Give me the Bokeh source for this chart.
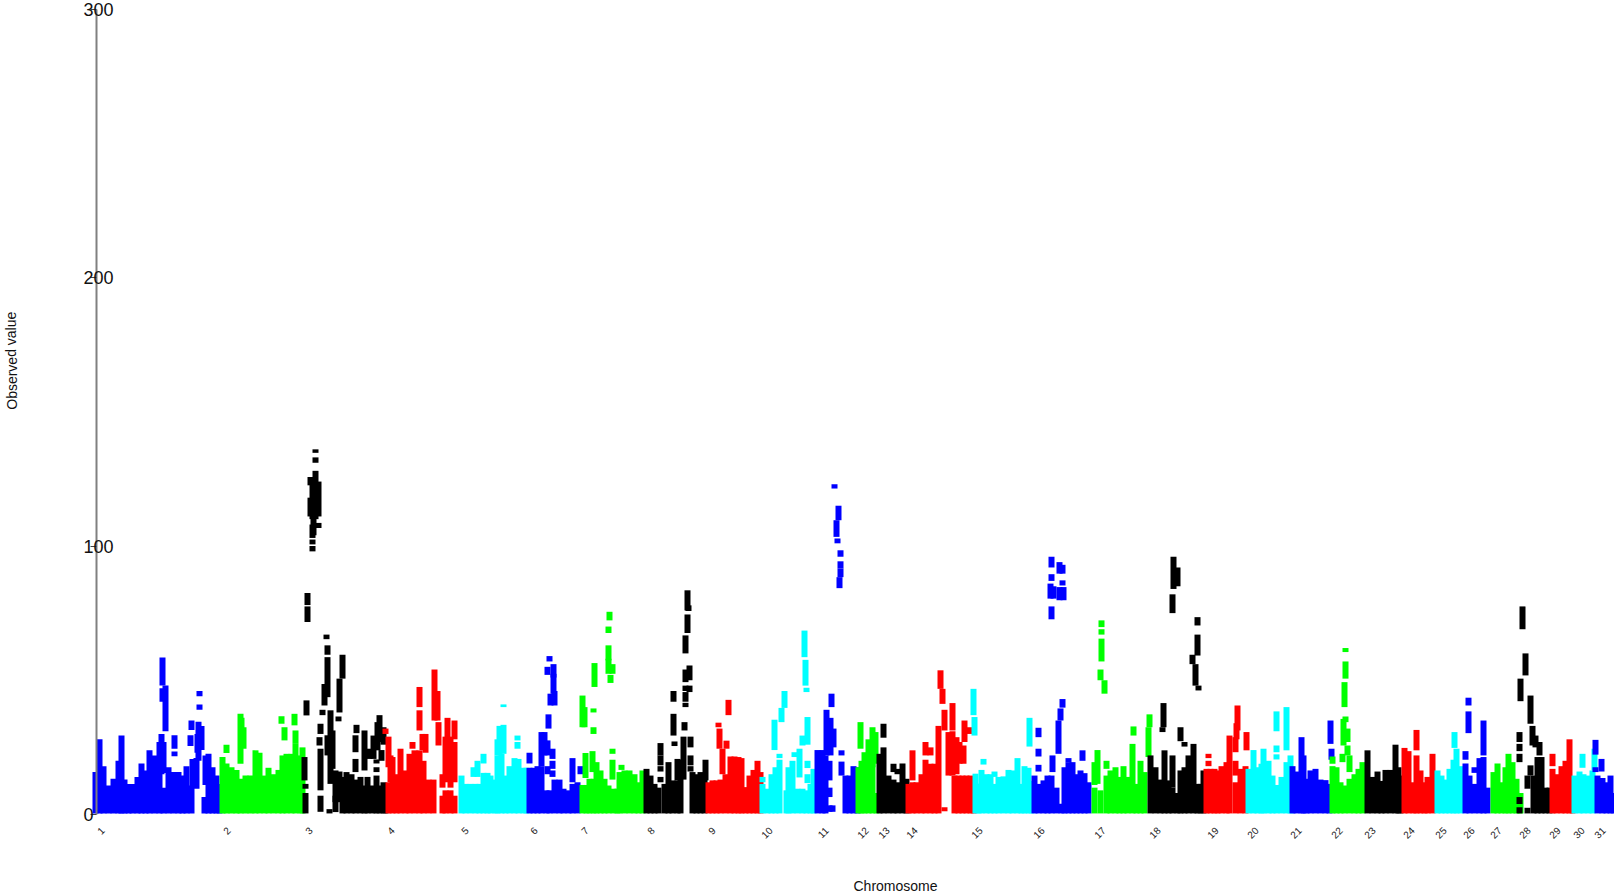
from bokeh.plotting import figure
from bokeh.models import FixedTicker, Label, ColumnDataSource
from bokeh.embed import file_html
from bokeh.resources import INLINE

# (position, top of the dense column)
chr01 = [(95,15.8),(99,28),(103,18),(108,10.8),(113,13.3),(118,20),(121,29.4),(124,13),(128,11.4),(132,11.4),(137,14),(141,19),(145,16.4),(149,23.9),(154,22),(159,27),(163,10),(168,17.6),(173,15.8),(178,15.8),(182,14.5),(186,18),(191,10.8),(204,6.5),(208,22.6),(212,17.6),(216,14.5),(219,11.4)]
chr01_up = [(163,15.5,27),(161,15,30),(162,48,58.5),(165,31,48),(162,42,47),(174,24.5,29.5),(174,21.7,23.5),(199,39,41),(199,44,46),(191,31.5,35),(190,25.5,29.5),(198,20,34.5),(201,24,33),(192,10,20.7),(196,9.6,21),(205,11,22),(197,23,30)]
chr02 = [(222,21.4),(226,19),(231,17.6),(236,16.6),(240,13.3),(245,14.5),(250,14.5),(255,23.9),(259,23),(264,14.5),(268,17.4),(273,15),(278,16.6),(282,22),(286,22.6),(291,22.6),(295,26.3),(300,22),(302,25)]
chr02_up = [(226,22.9,26),(240,18.9,37.5),(243,24.5,32.5),(241,28,36),(281,33.8,36.6),(284,27.6,32.5),(294,33.2,37.5),(295,26.3,31.3)]
chr03 = [(305,8),(342,14),(346,15.8),(351,15),(355,13),(360,14),(364,10.8),(367,14),(372,10.8),(376,14.5),(379,10.8),(383,12),(385,10)]
chr03_up = [(305,9.6,11.4),(304,12.7,21.4),(306,36.9,42.5),(307,78,82.5),(307,71.7,77.5),(312,98,100),(312,100.6,102.4),(312,103,108),(313,104,112),(312,110,123),(315,110,128),(318,111,124),(310,122.6,125.7),(315,134.7,136),(315,131,133),(318,106.7,108.6),(310,111,118),(320,1,7),(320,9,24.5),(319,25.7,28.8),(320,30,33.8),(322,37,39),(324,40.6,48.6),(327,43.7,58.6),(327,59.5,63),(326,65.3,67),(327,22,29.5),(330,11.4,38.8),(332,17,31.3),(329,0.4,2),(335,0.9,7),(335,4.6,16.4),(339,4.6,16),(339,38,50.6),(342,50.6,59.5),(338,34.7,36.5),(356,30.3,33.4),(355,23.2,29.5),(355,15.8,20.7),(364,16.4,31.3),(369,20.7,24.5),(373,20.7,29.4),(376,15.8,17.6),(376,19,20.5),(377,23.9,34.4),(379,27,37),(381,20,24),(383,26,32.5)]
chr04 = [(388,12),(392,21.4),(396,15),(400,24.5),(405,16.4),(409,22.6),(414,23.9),(419,23.9),(423,20),(428,13),(433,13),(445,9),(450,9),(454,7)]
chr04_up = [(385,30,32),(388,17.6,29),(390,12,22),(412,24.5,27),(419,40,47.5),(419,31.3,38.8),(422,24,30),(425,23,30),(434,35,54),(437,35,46),(438,25.7,34.4),(442,10,15),(442,0.4,7),(445,12,29),(447,22,36),(450,10,29),(454,28,35),(454,12,27)]
chr05 = [(461,14.5),(465,11.4),(470,11.4),(475,11.4),(479,11.4),(483,15.5),(487,15.5),(490,14.5),(495,13),(497,22),(501,22.6),(505,14.5),(509,18),(514,21),(518,20.7),(523,17.4),(526,17.4)]
chr05_up = [(473,14,17.6),(477,14,20),(483,19,22.6),(497,22,28),(499,22,33),(503,22.6,33.4),(503,40,41),(517,27.6,29.4),(517,24.5,27)]
chr06 = [(529,17.4),(533,17.4),(537,18),(541,18),(546,9),(549,9),(554,13),(559,13),(563,9.6),(568,9),(572,11.4),(577,12)]
chr06_up = [(529,19,23),(541,18,30.7),(544,22,30.7),(547,22,27.6),(547,15,18),(548,32,37.3),(550,40.6,45),(553,45,52.4),(553,51,56),(549,57,59),(547,52,55),(554,40.6,46),(552,20.7,24.5),(552,17,20),(552,14,16.4),(572,12,21),(580,15,18)]
chr07 = [(582,11),(586,11),(589,13.3),(593,13.3),(596,19.5),(600,16.4),(604,13.3),(608,10.8),(613,9.6),(617,9.6),(619,15.8),(624,16.4),(629,16.4),(634,15),(638,12),(642,16.4)]
chr07_up = [(582,32.5,44.3),(584,32.5,40),(585,13.6,22.9),(592,15.8,23.6),(594,47.5,56.4),(593,38,39.5),(593,30,32.5),(609,72.3,75.5),(608,67.6,70),(608,57.4,63),(608,52.4,58),(612,52.4,56),(610,49,52),(612,22.6,24.5),(612,13,20.4),(621,16.6,18.5)]
chr08 = [(646,17),(650,14.5),(654,11.4),(658,10),(664,11.4),(668,19.5),(672,12.7),(677,12.7),(680,20.4),(692,15.8),(696,15),(700,15.8),(704,14.5)]
chr08_up = [(660,12,14),(660,16,18),(660,18.3,22),(660,22,26.6),(673,42,46),(673,29.4,37.5),(674,25.5,27.2),(677,12.7,20.7),(683,13,29),(687,76,83.5),(688,75.8,77.9),(687,67.6,74.5),(685,60,66.7),(685,49.3,54),(689,50,55.5),(685,46,48),(689,45.6,48),(685,42,45.6),(685,40,41.6),(684,31.3,34.4),(690,25,29),(690,18.3,22),(690,16,18),(705,12.7,20.4)]
chr09 = [(708,12),(712,12.7),(716,12.7),(720,13),(725,15),(730,21.6),(734,21.6),(738,21.4),(741,21),(745,10.2),(749,14.5),(753,16.6),(757,20),(760,15.8)]
chr09_up = [(718,32.5,34.2),(719,24.5,32),(722,15,24.5),(726,24.5,27.5),(728,37,42.7)]
chr10 = [(762,11.4),(767,9.6),(771,15),(775,17.6),(779,20.4),(786,9),(788,17.6),(792,20),(797,9.6),(802,9.6),(806,9),(810,11.4),(813,17)]
chr10_up = [(762,12,14),(774,24,35.3),(779,21,22.6),(781,34.4,39.7),(784,39.7,46),(794,21.4,23.2),(799,13.8,24.5),(804,58.6,68.5),(805,48,57.6),(806,45.6,47.2),(807,26,36.3),(802,25.7,29.4),(807,17.3,20),(807,11.7,15)]
chr11 = [(817,24),(822,24),(825,22),(845,14.5),(849,14.5),(853,18),(857,17.6)]
chr11_up = [(826,22,39),(830,22,36),(833,25,32),(829,12.7,20),(829,6.5,10),(829,1,3.4),(831,40,45),(832,1,3.4),(841,22,23.9),(841,14.5,19.7),(834,121.4,123),(838,109.6,115),(836,103.4,109.6),(837,101,102.8),(840,96,98.4),(840,91.6,94.3),(840,88.4,91.6),(839,84.3,88.4)]
chr12 = [(858,17.6),(861,20),(864,23.2),(868,28),(872,19),(876,8)]
chr12_up = [(860,24.5,34.4),(872,17.6,32.5),(875,18.9,30.7)]
chr13 = [(879,22.6),(883,25),(888,14.5),(893,13),(897,12),(902,19),(906,13.3)]
chr13_up = [(883,28.6,33.8),(893,15.8,18.9),(897,15,17)]
chr14 = [(908,11.4),(912,12),(916,12),(921,15),(925,20.4),(930,18.9),(934,18.9),(938,33),(954,14.5),(958,14.5),(962,14.5),(966,14.5),(970,14.5),(973,9)]
chr14_up = [(912,12.7,23.9),(925,22,27),(930,22,25),(940,46.8,53.7),(942,41.2,46.8),(944,31.3,39),(944,1.2,2.7),(948,14.5,30.7),(952,31.3,41.5),(952,14.5,31),(956,15,28.8),(959,18.9,27),(964,27,35),(963,18.9,25.7),(969,30,32.5)]
chr15 = [(975,15.2),(978,11.5),(981,16.6),(986,15),(990,15),(994,11.4),(998,14),(1003,14.2),(1008,16.6),(1012,16.4),(1017,21),(1021,11.4),(1024,18),(1028,17.4),(1031,12.5)]
chr15_up = [(973,37,46.8),(974,29.4,36.3),(994,14,16),(983,18.6,20.7),(1029,25.3,36)]
chr16 = [(1034,14.5),(1038,11.4),(1043,12.7),(1047,14.5),(1051,14.5),(1056,10),(1061,4),(1064,17.6),(1068,19.5),(1072,19.5),(1076,15),(1080,16.4),(1084,15.4),(1088,12)]
chr16_up = [(1038,28.8,32.3),(1038,21.6,24.5),(1038,16,18.5),(1052,15.8,22),(1051,92,96),(1051,87,89.5),(1050,80.4,86),(1053,80.4,85),(1051,72.7,77.5),(1059,89.7,94),(1062,89.7,93),(1062,85.3,87.2),(1059,79.8,84.7),(1063,79.8,84.7),(1058,22.6,35),(1062,39.8,43),(1060,35,39.5),(1068,19.5,21),(1082,20,23.9)]
chr17 = [(1094,10),(1100,9),(1106,14.5),(1110,16.4),(1115,17.6),(1119,14),(1123,18),(1127,14),(1132,26.3),(1136,11.4),(1140,20),(1144,15.8)]
chr17_up = [(1097,11.4,24),(1094,11,19.5),(1101,69.8,72.3),(1101,67,69),(1101,57,65.5),(1100,50,54),(1104,45,50),(1106,17,20),(1133,29.4,32.8),(1149,32.5,37.3),(1148,21.4,32.5)]
chr18 = [(1150,22),(1155,17.6),(1160,13),(1164,23.9),(1168,12.7),(1172,10),(1177,8),(1180,16.4),(1184,17.6),(1188,22),(1193,26.3),(1197,11.4),(1200,11.4),(1203,16.4)]
chr18_up = [(1172,10,22),(1163,32.5,41.5),(1162,30.7,32.5),(1180,27.3,32.5),(1184,25.3,27),(1197,70.4,73.5),(1197,59.2,67),(1192,56,59.5),(1195,48,56),(1198,46.2,48),(1173,84,96),(1177,85,92),(1172,75,82)]
chr19 = [(1206,17),(1210,17),(1214,17),(1217,16.4),(1221,18),(1226,19.5),(1229,29.4),(1235,12),(1240,17),(1245,18)]
chr19_up = [(1208,18,20),(1208,21,22.6),(1235,14.5,20),(1235,23.2,28.8),(1237,31.3,40.6),(1236,28,34),(1246,23.9,30.7)]
chr20 = [(1248,17),(1253,24),(1257,17.6),(1261,18.9),(1263,24.5),(1268,20),(1272,14.5),(1276,11),(1281,14),(1286,19.5),(1290,22)]
chr20_up = [(1276,31,38.4),(1276,23.2,25.7),(1276,20.5,22.4),(1286,23.9,40)]
chr21 = [(1292,18),(1296,16),(1301,28.8),(1303,22),(1306,13.3),(1310,16.4),(1315,17),(1320,13),(1325,12.8),(1329,11.4)]
chr21_up = [(1330,26.3,35),(1331,20.4,24.5)]
chr22 = [(1332,18),(1336,17.6),(1340,12),(1344,10.8),(1349,13.3),(1354,15),(1358,17),(1362,19.5)]
chr22_up = [(1332,18.9,21.6),(1342,19.5,22.6),(1345,60.5,62),(1345,50.6,57),(1344,40,49.3),(1345,34.4,36.5),(1343,25.7,35.6),(1347,27,32),(1347,22,25.7),(1349,15.8,22)]
chr23 = [(1367,23.9),(1372,14),(1377,16),(1381,12.5),(1385,16.6),(1390,16.6),(1395,26),(1398,17.6),(1400,14.5)]
chr23_up = []
chr24 = [(1404,24.8),(1408,23.6),(1413,12),(1416,22),(1420,16.4),(1424,12),(1427,14),(1432,22.6)]
chr24_up = [(1416,23.9,31.5)]
chr25 = [(1437,16.4),(1441,14.5),(1445,13),(1449,17),(1453,20.4),(1456,24.5),(1460,18)]
chr25_up = [(1454,24.8,30.7)]
chr26 = [(1465,19),(1469,14.5),(1474,11.4),(1479,21),(1483,21.4),(1487,10)]
chr26_up = [(1465,20.4,23.6),(1468,30.3,38.4),(1468,40.6,43.5),(1483,22,35),(1474,15.5,17.6)]
chr27 = [(1493,15.8),(1497,19),(1501,12),(1505,17.6),(1508,22.6),(1512,19.5),(1516,13.3),(1520,8)]
chr27_up = []
chr28 = [(1527,2.5),(1533,14.5),(1537,21.4),(1541,21.4),(1545,10),(1549,10)]
chr28_up = [(1519,3.9,6.5),(1519,0.4,2.7),(1519,27,30.7),(1519,23.6,26.3),(1519,19.5,22.6),(1522,69,77.5),(1520,42.2,50.6),(1525,51.8,60),(1527,9.6,14.5),(1530,33.8,44.3),(1530,14.5,18.3),(1532,25.7,33),(1535,25,29.4),(1539,22,27)]
chr29 = [(1552,17),(1556,15),(1561,18),(1565,20),(1569,28),(1572,12)]
chr29_up = [(1552,18,22.6)]
chr30 = [(1574,14.5),(1579,16),(1583,15),(1588,14.5),(1592,16.4)]
chr30_up = [(1582,17.4,22.6),(1594,16.4,24.5)]
chr31 = [(1597,14.5),(1602,13.6),(1606,12),(1610,14.5),(1613,8)]
chr31_up = [(1595,22.3,27.8),(1595,15.8,17.6),(1601,16,20.7)]

dense_columns = [chr01,chr02,chr03,chr04,chr05,chr06,chr07,chr08,chr09,chr10,chr11,chr12,chr13,chr14,chr15,chr16,chr17,chr18,chr19,chr20,chr21,chr22,chr23,chr24,chr25,chr26,chr27,chr28,chr29,chr30,chr31]
upper_runs = [chr01_up,chr02_up,chr03_up,chr04_up,chr05_up,chr06_up,chr07_up,chr08_up,chr09_up,chr10_up,chr11_up,chr12_up,chr13_up,chr14_up,chr15_up,chr16_up,chr17_up,chr18_up,chr19_up,chr20_up,chr21_up,chr22_up,chr23_up,chr24_up,chr25_up,chr26_up,chr27_up,chr28_up,chr29_up,chr30_up,chr31_up]

chrom_colors = ["#0000ff", "#00ff00", "#000000", "#ff0000", "#00ffff"]
chrom_labels = [str(i) for i in range(1, 32)]
chrom_ticks = [102,228,310,392,466,535,586,652,713,770,826,866,887,915,980,1042,1103,1158,1216,1256,1299,1340,1373,1412,1444,1472,1499,1528,1558,1582,1603]
y_ticks = [0, 100, 200, 300]
y_title = "Observed value"
x_title = "Chromosome"
floor_value = 0.4

W, H = 1614, 893
PX = 2.685  # screen pixels per unit of observed value
p = figure(width=W, height=H, output_backend="svg", toolbar_location=None,
           x_range=(0, W), y_range=((814 - H) / PX, 814 / PX),
           min_border_left=0, min_border_right=0, min_border_top=0, min_border_bottom=0)
p.outline_line_color = None
p.xgrid.visible = False
p.ygrid.visible = False
p.background_fill_color = "white"

for i, (cols, ups) in enumerate(zip(dense_columns, upper_runs)):
    xs = [c[0] for c in cols] + [u[0] for u in ups]
    lo = [floor_value] * len(cols) + [u[1] for u in ups]
    hi = [c[1] for c in cols] + [u[2] for u in ups]
    src = ColumnDataSource(dict(x=xs, bottom=lo, top=hi))
    p.vbar(x="x", bottom="bottom", top="top", width=6, source=src,
           fill_color=chrom_colors[i % 5], line_color=None)

ya = p.yaxis[0]
ya.fixed_location = 96
ya.bounds = (0, 300)
ya.ticker = FixedTicker(ticks=y_ticks)
ya.minor_tick_line_color = None
ya.axis_line_color = "#808080"
ya.axis_line_width = 2
ya.major_tick_line_color = "#444444"
ya.major_tick_out = 6
ya.major_tick_in = 0
ya.major_label_overrides = {t: "" for t in y_ticks}

xa = p.xaxis[0]
xa.fixed_location = 0
xa.ticker = FixedTicker(ticks=chrom_ticks)
xa.major_label_overrides = {t: l for t, l in zip(chrom_ticks, chrom_labels)}
xa.major_label_orientation = 0.785
xa.major_label_text_font = "Liberation Sans"
xa.major_label_text_font_size = "10px"
xa.major_label_text_color = "#222222"
xa.major_label_standoff = 8
xa.axis_line_color = None
xa.major_tick_line_color = None
xa.minor_tick_line_color = None

for t in y_ticks:
    p.add_layout(Label(x=83, y=t, text=str(t),
                       text_font="Liberation Sans", text_font_size="18px",
                       text_color="#111111", text_baseline="middle", text_align="left"))

p.add_layout(Label(x=895, y=-26.8, text=x_title,
                   text_font="Liberation Sans", text_font_size="14px", text_color="#111111",
                   text_align="center", text_baseline="middle"))
p.add_layout(Label(x=11, y=169, text=y_title,
                   angle=1.5708, text_font="Liberation Sans", text_font_size="14px",
                   text_color="#111111", text_align="center", text_baseline="middle"))

open("out.html", "w").write(file_html(p, INLINE))
